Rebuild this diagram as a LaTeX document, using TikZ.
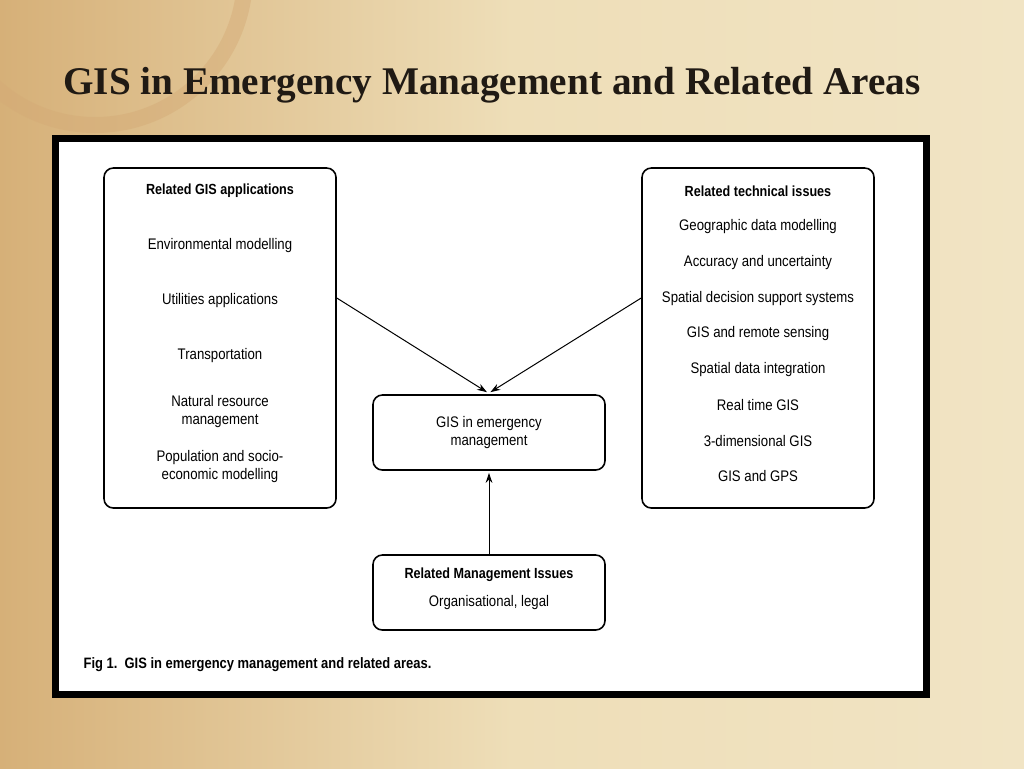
\documentclass[tikz,border=0pt]{standalone}
\usepackage{fontspec}
\setmainfont{Liberation Serif}
\setsansfont[FakeStretch=0.86]{Liberation Sans}
\usetikzlibrary{arrows.meta}
\definecolor{parchL}{RGB}{214,176,120}
\definecolor{parchM}{RGB}{238,222,184}
\definecolor{parchR}{RGB}{241,228,196}
\definecolor{titleink}{RGB}{32,26,20}

\begin{document}
\begin{tikzpicture} [x=0.75pt, y=-0.75pt,
  box/.style={draw, line width=1.2pt, rounded corners=7pt, inner sep=0},
  item/.style={font=\sffamily\fontsize{11.5}{13.5}\selectfont, align=center, inner sep=1},
  head/.style={font=\sffamily\bfseries\fontsize{11}{13}\selectfont, inner sep=1},
  link/.style={->, >={Stealth[length=7.5pt,width=5pt]}, line width=.75pt}]
% background
\useasboundingbox (0,0) rectangle (1024,768);
\clip (0,0) rectangle (1024,768);
\shade[left color=parchL, right color=parchR, middle color=parchM] (0,0) rectangle (1024,768);
\draw[brown!55!parchM, line width=12pt, opacity=.45] (95,-25) circle (150);
\node[anchor=west, text=titleink, font=\bfseries\fontsize{29.4}{34}\selectfont, inner sep=0] (title) at (63,85) {GIS in Emergency Management and Related Areas};
% white figure frame
\node[draw, fill=white, line width=5.25pt, inner sep=0, minimum width=653.25pt, minimum height=417pt] (frame) at (491,416.5) {};
% boxes
\node[box, minimum width=174pt, minimum height=255pt] (apps) at (220,338) {};
\node[box, minimum width=174pt, minimum height=255pt] (tech) at (758,338) {};
\node[box, minimum width=174pt, minimum height=56.25pt, item] (ems) at (489,432.5) {GIS in emergency\\management};
\node[box, minimum width=174pt, minimum height=56.25pt] (mgmt) at (489,592.5) {};
% left list
\node[head] (appsT) at (220,191) {Related GIS applications};
\foreach \y/\t [count=\i] in {246/Environmental modelling, 301/Utilities applications, 356/Transportation, 412/{Natural resource\\management}, 467/{Population and socio-\\economic modelling}} {
 \node[item] (app\i) at (220,\y) {\t};
}
% right list
\node[head] (techT) at (758,191) {Related technical issues};
\foreach \t [count=\i from 0] in {Geographic data modelling, Accuracy and uncertainty, Spatial decision support systems, GIS and remote sensing, Spatial data integration, Real time GIS, 3-dimensional GIS, GIS and GPS} {
 \node[item] (tech\i) at (758,227+35.6*\i) {\t};
}
% management box
\node[head] (mgmtT) at (489,575) {Related Management Issues};
\node[item] (mgmt1) at (489,603) {Organisational, legal};
% arrows
\draw[link] ([yshift=30pt]apps.east) -- ([xshift=-1.5pt,yshift=1.5pt]ems.north);
\draw[link] ([yshift=30pt]tech.west) -- ([xshift=1pt,yshift=1.5pt]ems.north);
\draw[link] (mgmt.north) -- ([yshift=-1.5pt]ems.south);
% caption
\node[anchor=west, head, font=\sffamily\bfseries\fontsize{11.3}{13}\selectfont] (cap) at (82,665) {Fig 1.\ \ GIS in emergency management and related areas.};
\end{tikzpicture}
\end{document}
